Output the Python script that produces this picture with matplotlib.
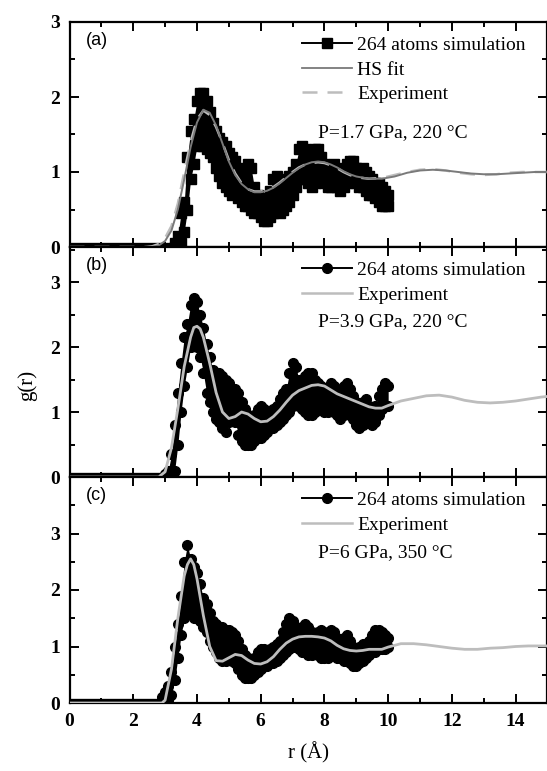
import numpy as np
import matplotlib
matplotlib.use("Agg")
import matplotlib.pyplot as plt
from matplotlib.lines import Line2D

plt.rcParams['font.family'] = ['Liberation Serif', 'DejaVu Serif']
plt.rcParams['mathtext.fontset'] = 'stix'

# ---- panel (a): P=1.7 GPa, 220 C ----
hs_r = [0, 2.4, 2.6, 2.8, 3.0, 3.2, 3.4, 3.6, 3.8, 4.0,
        4.2, 4.4, 4.6, 4.8, 5.0, 5.2, 5.4, 5.6, 5.8, 6.0, 6.2, 6.4, 6.6, 6.8, 7.0,
        7.2, 7.4, 7.6, 7.8, 8.0, 8.2, 8.4, 8.6, 8.8, 9.0,
        9.4, 9.8, 10.2, 10.6, 11.0, 11.4, 11.8, 12.2, 12.6, 13.0, 13.4, 13.8, 14.2, 14.6, 15.0]
hs_g = [0, 0, 0.0, 0.02, 0.08, 0.22, 0.5, 0.9, 1.33, 1.66,
        1.83, 1.79, 1.62, 1.38, 1.14, 0.96, 0.84, 0.77, 0.73, 0.73, 0.75, 0.79, 0.85, 0.92, 0.99,
        1.05, 1.1, 1.13, 1.14, 1.13, 1.1, 1.06, 1.01, 0.97, 0.94,
        0.91, 0.91, 0.94, 0.99, 1.02, 1.03, 1.02, 1.0, 0.98, 0.97, 0.97, 0.98, 0.99, 1.0, 1.0]
exp_a_g = [0, 0, 0.01, 0.04, 0.12, 0.28, 0.58, 1.0, 1.4, 1.7,
           1.82, 1.76, 1.6, 1.39, 1.16, 0.98, 0.85, 0.77, 0.74, 0.74, 0.76, 0.8, 0.86, 0.93, 1.0,
           1.06, 1.1, 1.12, 1.13, 1.12, 1.09, 1.05, 1.0, 0.96, 0.93,
           0.91, 0.92, 0.96, 1.0, 1.03, 1.04, 1.02, 0.99, 0.97, 0.96, 0.97, 0.99, 1.0, 1.0, 1.0]

sim_a_r = np.round(np.arange(3.3, 10.01, 0.1), 1)
sim_a_hi = [0.05, 0.15, 0.45, 0.6, 1.2, 1.55, 1.7, 1.95, 2.05, 2.05,
            1.95, 1.8, 1.65, 1.55, 1.45, 1.4, 1.35, 1.25, 1.2, 1.15,
            1.05, 0.95, 1.0, 1.1, 1.05, 0.8, 0.7, 0.65, 0.6, 0.65,
            0.75, 0.9, 0.95, 0.85, 0.8, 0.9, 0.95, 1.0, 1.1, 1.3,
            1.35, 1.3, 1.25, 1.15, 1.3, 1.3, 1.2, 1.1, 1.05, 1.0,
            1.1, 1.05, 0.95, 1.0, 1.1, 1.15, 1.15, 1.05, 1.0, 1.05,
            1.0, 0.95, 0.9, 0.85, 0.85, 0.8, 0.75, 0.7]
sim_a_lo = [0, 0, 0.05, 0.2, 0.5, 0.9, 1.1, 1.35, 1.4, 1.35,
            1.3, 1.25, 1.2, 1.05, 0.95, 0.85, 0.8, 0.75, 0.7, 0.8,
            0.65, 0.6, 0.55, 0.55, 0.5, 0.45, 0.45, 0.4, 0.35, 0.35,
            0.4, 0.45, 0.5, 0.45, 0.5, 0.55, 0.6, 0.7, 0.8, 0.9,
            0.95, 0.9, 0.85, 0.8, 0.85, 0.9, 0.95, 0.85, 0.8, 0.8,
            0.85, 0.8, 0.75, 0.8, 0.85, 0.9, 0.9, 0.85, 0.8, 0.8,
            0.75, 0.7, 0.7, 0.65, 0.6, 0.55, 0.55, 0.55]

# ---- panel (b): P=3.9 GPa, 220 C ----
exp_b_r = [0, 2.8, 3.0, 3.2, 3.4, 3.6, 3.8, 3.9, 4.0, 4.1, 4.2,
           4.4, 4.6, 4.8, 5.0, 5.2, 5.4, 5.6, 5.8, 6.0, 6.2, 6.4, 6.6, 6.8, 7.0,
           7.2, 7.4, 7.6, 7.8, 8.0, 8.2, 8.4, 8.6, 8.8, 9.0, 9.2, 9.4, 9.6, 9.8, 10.0,
           10.4, 10.8, 11.2, 11.6, 12.0, 12.4, 12.8, 13.2, 13.6, 14.0, 14.4, 14.8, 15.0]
exp_b_g = [0, 0, 0.08, 0.45, 1.05, 1.7, 2.15, 2.3, 2.32, 2.28, 2.15,
           1.75, 1.3, 1.0, 0.9, 0.93, 1.0, 0.97, 0.9, 0.85, 0.86, 0.93, 1.03, 1.15, 1.26,
           1.33, 1.37, 1.41, 1.42, 1.4, 1.34, 1.28, 1.24, 1.2, 1.16, 1.12, 1.08, 1.06, 1.06, 1.1,
           1.17, 1.21, 1.25, 1.26, 1.23, 1.18, 1.15, 1.14, 1.15, 1.17, 1.2, 1.23, 1.24]

sim_b_r = np.round(np.arange(3.0, 10.01, 0.1), 1)
sim_b_hi = [0.05, 0.1, 0.35, 0.8, 1.3, 1.75, 2.15, 2.35, 2.65, 2.75,
            2.7, 2.5, 2.3, 2.05, 1.85, 1.65, 1.6, 1.6, 1.55, 1.5,
            1.45, 1.35, 1.35, 1.3, 1.15, 1.05, 0.95, 0.9, 0.95, 1.05,
            1.1, 1.05, 0.95, 1.0, 1.05, 1.1, 1.2, 1.3, 1.35, 1.6,
            1.75, 1.7, 1.5, 1.45, 1.55, 1.6, 1.6, 1.5, 1.45, 1.4,
            1.35, 1.3, 1.45, 1.4, 1.35, 1.3, 1.4, 1.45, 1.35, 1.25,
            1.15, 1.1, 1.15, 1.2, 1.1, 1.05, 1.1, 1.25, 1.35, 1.45,
            1.4]
sim_b_lo = [0, 0, 0, 0.1, 0.5, 1.0, 1.4, 1.7, 2.0, 2.05,
            2.0, 1.85, 1.6, 1.3, 1.15, 1.0, 0.9, 0.85, 0.75, 0.7,
            0.85, 0.9, 0.85, 0.65, 0.55, 0.5, 0.5, 0.5, 0.55, 0.6,
            0.6, 0.65, 0.7, 0.75, 0.75, 0.8, 0.85, 0.9, 0.95, 1.0,
            1.1, 1.15, 1.1, 1.05, 1.0, 0.95, 0.95, 1.0, 1.05, 1.05,
            1.0, 1.0, 1.05, 1.0, 0.95, 0.9, 0.95, 1.0, 0.95, 0.9,
            0.8, 0.75, 0.8, 0.85, 0.85, 0.8, 0.85, 0.95, 1.05, 1.1,
            1.1]

# ---- panel (c): P=6 GPa, 350 C ----
exp_c_r = [0, 2.9, 3.0, 3.2, 3.4, 3.6, 3.7, 3.8, 3.9, 4.0,
           4.2, 4.4, 4.6, 4.8, 5.0, 5.2, 5.4, 5.6, 5.8, 6.0, 6.2, 6.4, 6.6, 6.8, 7.0,
           7.2, 7.4, 7.6, 7.8, 8.0, 8.2, 8.4, 8.6, 8.8, 9.0, 9.2, 9.4, 9.6, 9.8, 10.0,
           10.4, 10.8, 11.2, 11.6, 12.0, 12.4, 12.8, 13.2, 13.6, 14.0, 14.4, 14.8, 15.0]
exp_c_g = [0, 0, 0.05, 0.6, 1.5, 2.25, 2.45, 2.55, 2.45, 2.2,
           1.55, 1.0, 0.75, 0.74, 0.8, 0.86, 0.84, 0.76, 0.7, 0.69, 0.73, 0.82, 0.95, 1.06, 1.13,
           1.17, 1.18, 1.18, 1.17, 1.15, 1.1, 1.02, 0.96, 0.93, 0.92, 0.93, 0.95, 0.95, 0.95, 0.99,
           1.05, 1.05, 1.03, 1.0, 0.97, 0.95, 0.95, 0.97, 0.98, 1.0, 1.01, 1.01, 1.01]

sim_c_r = np.round(np.arange(2.9, 10.01, 0.1), 1)
sim_c_hi = [0.1, 0.2, 0.3, 0.55, 1.0, 1.4, 1.9, 2.5, 2.8, 2.55,
            2.4, 2.3, 2.1, 1.85, 1.75, 1.6, 1.45, 1.4, 1.35, 1.35,
            1.3, 1.3, 1.25, 1.2, 1.1, 0.95, 0.85, 0.8, 0.75, 0.8,
            0.9, 0.95, 0.95, 0.9, 0.95, 1.0, 1.05, 1.1, 1.25, 1.4,
            1.5, 1.45, 1.35, 1.3, 1.35, 1.4, 1.35, 1.25, 1.2, 1.25,
            1.3, 1.25, 1.2, 1.3, 1.25, 1.15, 1.1, 1.15, 1.2, 1.1,
            1.0, 0.95, 1.0, 1.05, 1.0, 1.1, 1.2, 1.3, 1.3, 1.25,
            1.2, 1.15]
sim_c_lo = [0, 0, 0.05, 0.15, 0.4, 0.8, 1.2, 1.5, 1.6, 1.6,
            1.5, 1.5, 1.45, 1.35, 1.25, 1.1, 1.0, 0.9, 0.8, 0.75,
            0.75, 0.8, 0.75, 0.7, 0.6, 0.5, 0.45, 0.45, 0.45, 0.5,
            0.55, 0.6, 0.65, 0.65, 0.7, 0.7, 0.75, 0.8, 0.85, 0.9,
            0.95, 1.0, 1.0, 0.95, 0.9, 0.9, 0.85, 0.85, 0.9, 0.85,
            0.8, 0.8, 0.8, 0.85, 0.85, 0.8, 0.8, 0.75, 0.75, 0.7,
            0.65, 0.65, 0.7, 0.75, 0.8, 0.85, 0.9, 0.9, 0.95, 0.95,
            0.95, 1.0]

panels = [
    dict(tag='(a)', ylim=3.0, marker='s', text='P=1.7 GPa, 220 °C',
         sim=(sim_a_r, sim_a_lo, sim_a_hi), text_y=133),
    dict(tag='(b)', ylim=3.54, marker='o', text='P=3.9 GPa, 220 °C',
         sim=(sim_b_r, sim_b_lo, sim_b_hi), text_y=322),
    dict(tag='(c)', ylim=4.0, marker='o', text='P=6 GPa, 350 °C',
         sim=(sim_c_r, sim_c_lo, sim_c_hi), text_y=553),
]

W, H = 547, 771
fig = plt.figure(figsize=(W / 100, H / 100), dpi=100)
left, right = 69.5, 547.5
edges = [22, 247, 477, 703]

dark_gray = '#7a7a7a'
light_gray = '#bdbdbd'

axes = []
for i, p in enumerate(panels):
    top, bot = edges[i], edges[i + 1]
    ax = fig.add_axes([left / W, 1 - bot / H, (right - left) / W, (bot - top) / H])
    axes.append(ax)

    r, lo, hi = p['sim']
    # simulation: zero stretch, then the noisy band
    ax.plot([0, r[0]], [0, 0], color='k', lw=6, solid_capstyle='butt', zorder=3)
    ax.fill_between(r, lo, hi, color='k', lw=0, zorder=3)
    ax.plot(r, hi, ls='none', marker=p['marker'], ms=7, color='k', zorder=3)
    ax.plot(r, lo, ls='none', marker=p['marker'], ms=7, color='k', zorder=3)

    if i == 0:
        ax.plot(hs_r, exp_a_g, color=light_gray, lw=1.8, ls=(0, (6, 4)), zorder=4)
        ax.plot(hs_r, hs_g, color=dark_gray, lw=1.4, zorder=4)
    elif i == 1:
        ax.plot(exp_b_r, exp_b_g, color=light_gray, lw=2.0, zorder=4)
    else:
        ax.plot(exp_c_r, exp_c_g, color=light_gray, lw=2.0, zorder=4)

    ax.set_xlim(0, 15)
    ax.set_ylim(0, p['ylim'])
    ax.set_xticks(np.arange(0, 15, 2))
    ax.set_xticks(np.arange(0, 16, 1), minor=True)
    ax.set_yticks([0, 1, 2, 3])
    ax.set_yticks(np.arange(0.5, p['ylim'], 0.5), minor=True)
    ax.tick_params(which='both', direction='in', top=True, right=True, width=1.4)
    ax.tick_params(which='major', length=6.5, labelsize=14, pad=7)
    ax.tick_params(which='minor', length=3.5)
    for lab in ax.get_yticklabels() + ax.get_xticklabels():
        lab.set_fontweight('bold')
    for s in ax.spines.values():
        s.set_linewidth(1.6)
    if i < 2:
        ax.tick_params(labelbottom=False)

    ax.text(0.035, 0.955, p['tag'], transform=ax.transAxes, ha='left', va='top',
            fontsize=13, family='Liberation Sans')

    # legend
    handles = [Line2D([], [], color='k', lw=1.4, marker=p['marker'], ms=7,
                      label='264 atoms simulation')]
    if i == 0:
        handles.append(Line2D([], [], color=dark_gray, lw=1.3, label='HS fit'))
        handles.append(Line2D([], [], color=light_gray, lw=1.8, ls=(0, (6, 4)),
                              label='Experiment'))
    else:
        handles.append(Line2D([], [], color=light_gray, lw=1.8, label='Experiment'))
    ax.legend(handles=handles, loc='upper left', bbox_to_anchor=(0.455, 1.0),
              frameon=False, fontsize=14, handlelength=2.6, handletextpad=0.25,
              labelspacing=0.35, borderaxespad=0.35)
    ax.text(0.52, 1 - (p['text_y'] - top) / (bot - top), p['text'],
            transform=ax.transAxes, ha='left', va='center', fontsize=14)

axes[-1].set_xlabel('r (Å)', fontsize=15, labelpad=9)
fig.text(27 / W, 1 - 385 / H, 'g(r)', rotation=90, ha='center', va='center', fontsize=15)

fig.savefig('out.png', dpi=100)
